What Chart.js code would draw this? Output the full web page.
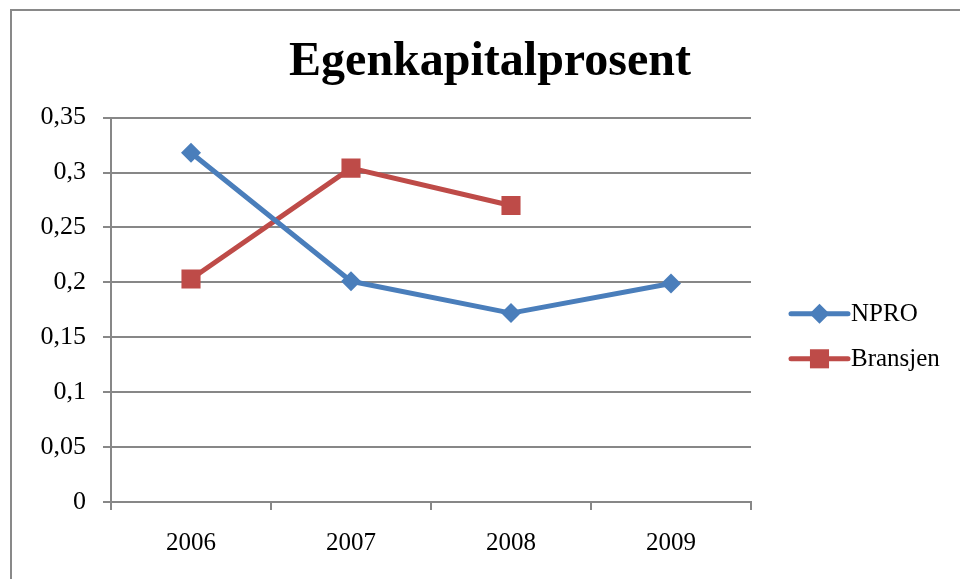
<!DOCTYPE html>
<html>
<head>
<meta charset="utf-8">
<title>Egenkapitalprosent</title>
<script src="https://cdn.jsdelivr.net/npm/chart.js@4.4.0/dist/chart.umd.min.js"></script>
<style>
  html, body { margin:0; padding:0; background:#fff; overflow:hidden; }
  #wrap { position:relative; width:960px; height:579px; }
  #frame { position:absolute; left:10px; top:9px; width:960px; height:600px;
           border-top:2px solid #898989; border-left:2px solid #898989; }
  #c { position:absolute; left:0; top:0; }
</style>
</head>
<body>
<div id="wrap">
  <div id="frame"></div>
  <canvas id="c" width="960" height="579"></canvas>
</div>
<script>
const years    = ['2006', '2007', '2008', '2009'];
const npro     = [0.318, 0.201, 0.172, 0.199];
const bransjen = [0.203, 0.304, 0.270, null];
const yTicks   = ['0', '0,05', '0,1', '0,15', '0,2', '0,25', '0,3', '0,35'];

const SERIF = '"Liberation Serif", "Times New Roman", serif';
const GRID = '#878787';
const BLUE = '#4A7EBB';
const RED  = '#BE4B48';

// legend at the right, drawn like Excel: short line with the marker on it
const sideLegend = {
  id: 'sideLegend',
  afterDraw(chart){
    const ctx = chart.ctx;
    const a = chart.chartArea;
    const mid = (a.top + a.bottom) / 2;
    chart.data.datasets.forEach((ds, i) => {
      const y = mid + 4 + i * 45;
      const x0 = a.right + 40, x1 = a.right + 97, xm = (x0 + x1) / 2;
      ctx.save();
      ctx.strokeStyle = ds.borderColor;
      ctx.lineWidth = ds.borderWidth;
      ctx.lineCap = 'round';
      ctx.beginPath(); ctx.moveTo(x0, y); ctx.lineTo(x1, y); ctx.stroke();
      ctx.fillStyle = ds.borderColor;
      ctx.beginPath();
      if (ds.pointStyle === 'rect') {
        const h = ds.pointRadius * Math.SQRT1_2;
        ctx.rect(xm - h, y - h, 2 * h, 2 * h);
      } else {
        const r = ds.pointRadius;
        ctx.moveTo(xm - r, y); ctx.lineTo(xm, y - r); ctx.lineTo(xm + r, y); ctx.lineTo(xm, y + r);
        ctx.closePath();
      }
      ctx.fill();
      ctx.fillStyle = '#000';
      ctx.font = '25px ' + SERIF;
      ctx.textBaseline = 'middle';
      ctx.fillText(ds.label, x1 + 3, y + 1);
      ctx.restore();
    });
  }
};

new Chart(document.getElementById('c'), {
  type: 'line',
  data: {
    labels: years,
    datasets: [
      { label: 'NPRO', data: npro, borderColor: BLUE, backgroundColor: BLUE,
        borderWidth: 5, pointStyle: 'rectRot', pointRadius: 10, pointBorderWidth: 0,
        pointBackgroundColor: BLUE, borderCapStyle: 'round', borderJoinStyle: 'round', tension: 0 },
      { label: 'Bransjen', data: bransjen, borderColor: RED, backgroundColor: RED,
        borderWidth: 5, pointStyle: 'rect', pointRadius: 13.5, pointBorderWidth: 0,
        pointBackgroundColor: RED, borderCapStyle: 'round', borderJoinStyle: 'round', tension: 0 }
    ]
  },
  options: {
    responsive: false,
    animation: false,
    layout: { padding: { left: 20, right: 0, top: 0, bottom: 0 } },
    plugins: {
      legend: { display: false },
      tooltip: { enabled: false },
      title: {
        display: true,
        text: 'Egenkapitalprosent',
        color: '#000',
        font: { family: SERIF, size: 48, weight: 'bold' },
        padding: { top: 34, bottom: 26 }
      }
    },
    scales: {
      x: {
        offset: true,
        grid: { display: true, drawOnChartArea: false, offset: true, tickLength: 8, color: GRID, lineWidth: 2 },
        border: { display: true, color: GRID, width: 2 },
        ticks: { color: '#000', font: { family: SERIF, size: 25 }, padding: 18, maxRotation: 0 },
        afterFit(s){ s.height = 77; }
      },
      y: {
        min: 0, max: 0.35,
        grid: { color: GRID, lineWidth: 2, tickLength: 8 },
        border: { display: true, color: GRID, width: 2 },
        ticks: { stepSize: 0.05, color: '#000', font: { family: SERIF, size: 26 }, padding: 17,
                 callback: (v, i) => yTicks[i] },
        afterFit(s){ s.width = 91; }
      },
      yRight: {
        position: 'right',
        grid: { display: false },
        border: { display: false },
        ticks: { display: false },
        afterFit(s){ s.width = 209; }
      }
    }
  },
  plugins: [sideLegend]
});
</script>
</body>
</html>
